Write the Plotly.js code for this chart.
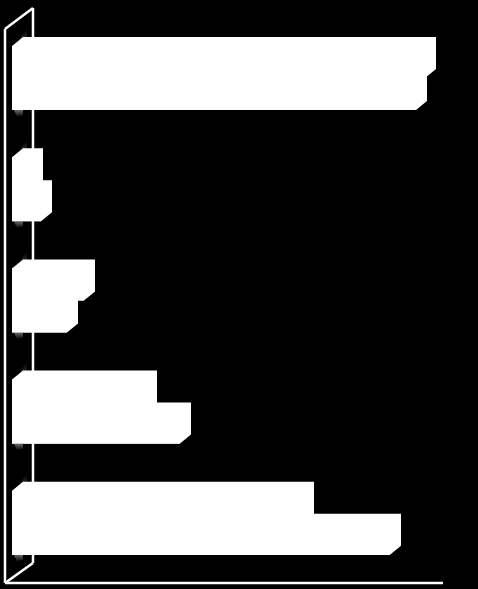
<!DOCTYPE html>
<html>
<head>
<meta charset="utf-8">
<script src="https://cdn.plot.ly/plotly-3.0.1.min.js"></script>
<style>html,body{margin:0;padding:0;background:#000;overflow:hidden}#c{width:478px;height:589px}</style>
</head>
<body>
<div id="c"></div>
<script>
const categories = ["Group 1", "Group 2", "Group 3", "Group 4", "Group 5"];
const seriesA = [413, 20, 72, 134, 291];
const seriesB = [404, 29, 55, 168, 378];

const positions = categories.map((_, i) => i);
const unitY = 111.2;
const depthX = 11, depthY = 9 / unitY, barSlot = 32 / unitY;

function sideFaces(values, centerOffset) {
  const xs = [], ys = [];
  values.forEach((v, i) => {
    const top = i + centerOffset - barSlot / 2, bot = top + barSlot;
    xs.push(0, depthX, v + depthX, v + depthX, v, 0, 0, null);
    ys.push(top, top - depthY, top - depthY, bot - depthY, bot, bot, top, null);
  });
  return {x: xs, y: ys};
}
const faceA = sideFaces(seriesA, -barSlot / 2);
const faceB = sideFaces(seriesB, barSlot / 2);
const face = (f) => ({type: "scatter", mode: "none", fill: "toself", fillcolor: "#fff",
  x: f.x, y: f.y, hoverinfo: "skip", showlegend: false});
const bar = (name, v) => ({type: "bar", orientation: "h", name, y: positions, x: v,
  text: categories, textposition: "none",
  marker: {color: "#fff", line: {width: 0}}, hoverinfo: "skip", showlegend: false});

// soft shadows the bars leave on the back wall
const haze = (xs, ys, scale) => ({type: "scatter", mode: "none", fill: "toself",
  x: xs, y: ys, hoverinfo: "skip", showlegend: false,
  fillgradient: {type: "vertical", colorscale: scale}});
const hazeTraces = [];
positions.forEach((i) => {
  const top = i - barSlot, bot = i + barSlot;
  hazeTraces.push(haze([3, 15, 15, 11], [top + 4 / unitY, top - 7 / unitY, top - 17 / unitY, top - 12 / unitY],
    [[0, "#5a5a5a"], [1, "#000"]]));
  hazeTraces.push(haze([2, 11, 11, 5], [bot, bot, bot + 5 / unitY, bot + 7 / unitY],
    [[0, "#000"], [1, "#6a6a6a"]]));
});

const wall = (x0, y0, x1, y1) => ({type: "line", x0, y0, x1, y1, xref: "x", yref: "y", layer: "below",
  line: {color: "#fff", width: 2.5}});
const py = (p) => (p - 78) / unitY;

Plotly.newPlot("c", [...hazeTraces, face(faceA), bar("A", seriesA), face(faceB), bar("B", seriesB)], {
  width: 478, height: 589,
  margin: {l: 0, r: 0, t: 0, b: 0, pad: 0},
  paper_bgcolor: "#000", plot_bgcolor: "#000",
  barmode: "group", bargap: 47 / unitY, bargroupgap: 0,
  xaxis: {range: [-12, 466], visible: false, fixedrange: true},
  yaxis: {range: [py(589), py(0)], visible: false, fixedrange: true},
  shapes: [
    wall(-7, py(29), -7, py(583)),
    wall(-7, py(29), 21, py(8)),
    wall(21, py(8), 21, py(563)),
    wall(-7, py(583), 21, py(563)),
    wall(-7, py(583), 431, py(583))
  ]
}, {staticPlot: true, displayModeBar: false});
</script>
</body>
</html>
